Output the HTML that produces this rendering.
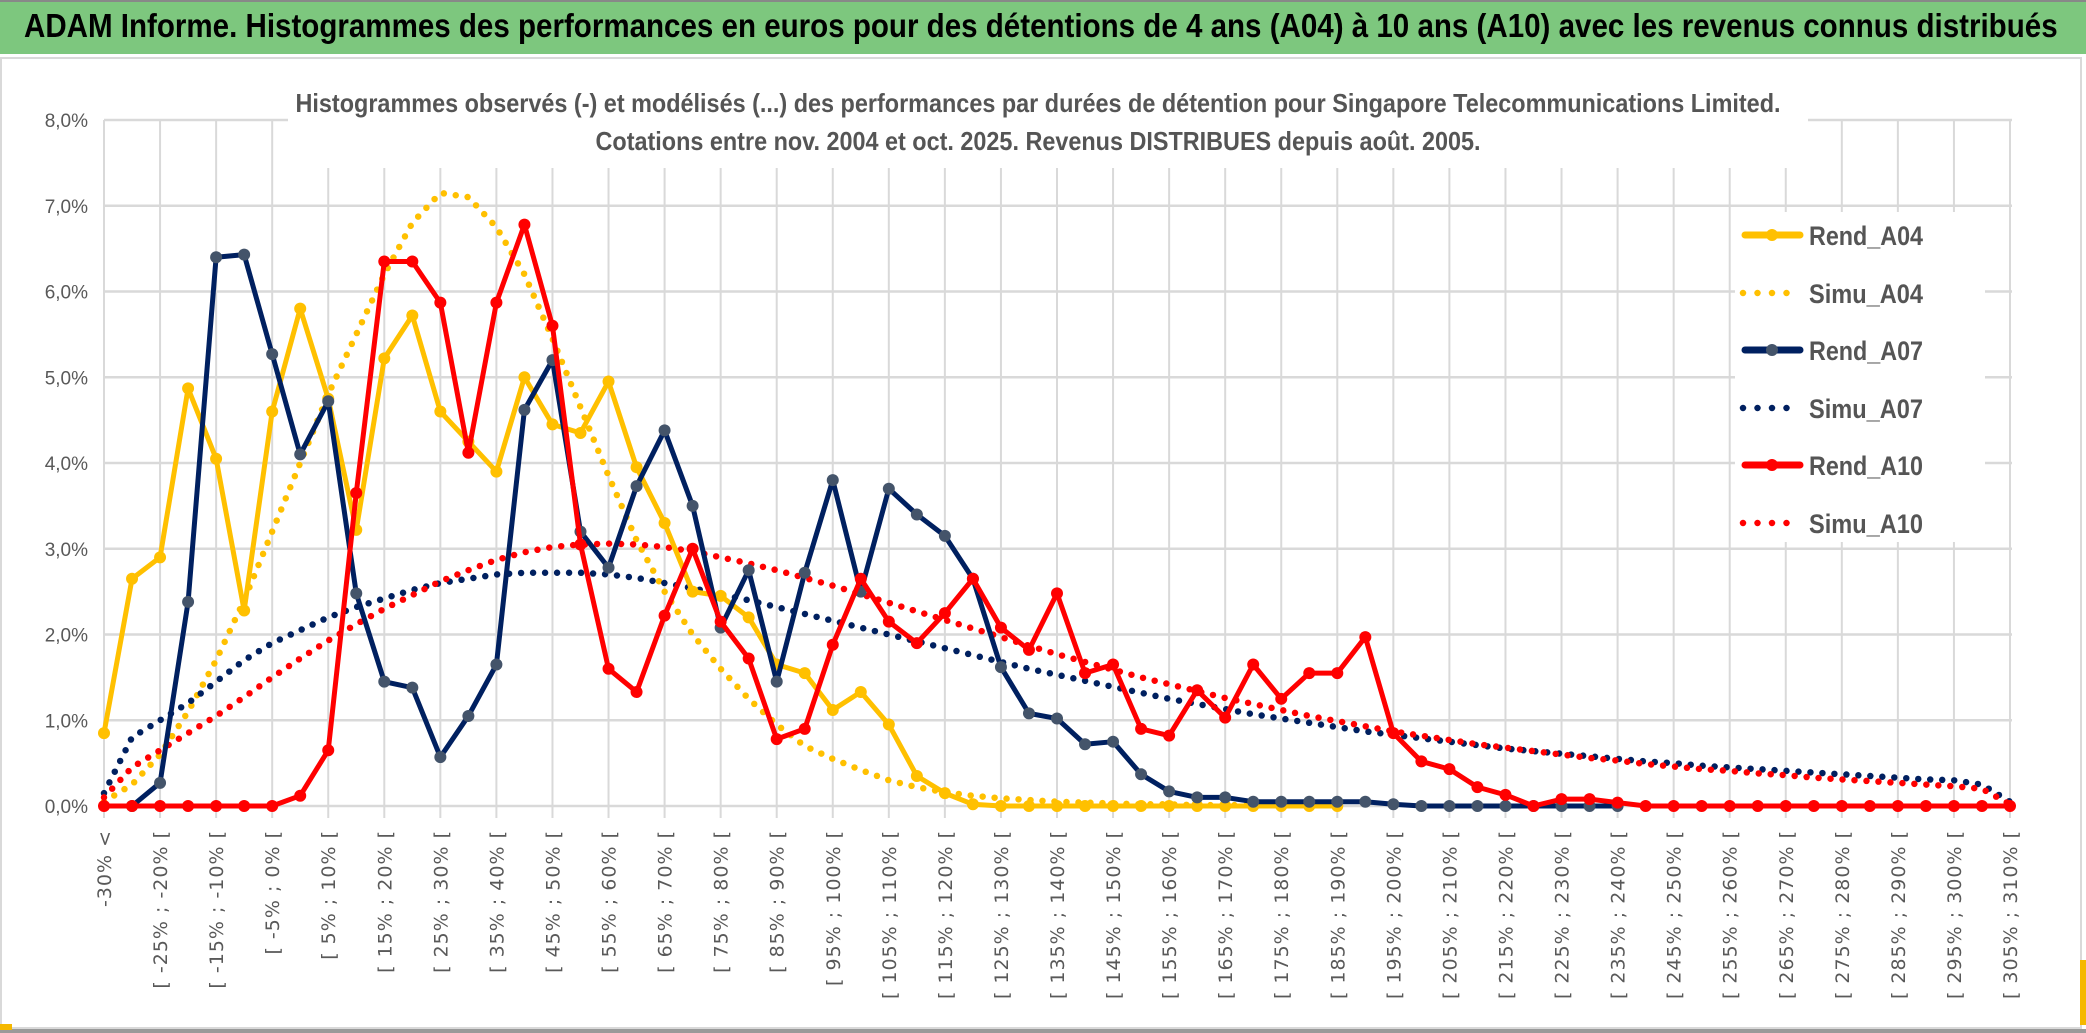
<!DOCTYPE html>
<html><head><meta charset="utf-8"><style>
html,body{margin:0;padding:0;background:#fff}
#wrap{position:relative;width:2086px;height:1033px;overflow:hidden;background:#fff}
#hdr{position:absolute;left:0;top:0;width:2086px;height:54px;background:#7dc77e;border-top:2px solid #888;box-sizing:border-box}
#hdr span{position:absolute;left:24px;top:5px;font:bold 33px "Liberation Sans",sans-serif;color:#000;white-space:nowrap;transform:scaleX(0.895);transform-origin:left top}
svg{position:absolute;left:0;top:0}
</style></head><body>
<div id="wrap">
<div id="hdr"><span>ADAM Informe. Histogrammes des performances en euros pour des détentions de 4 ans (A04) à 10 ans (A10) avec les revenus connus distribués</span></div>
<svg id="chart" width="2086" height="1033"></svg>
</div>
<script>
const categories=[];
const catStarts=[];for(let s=-30;s<=305;s+=5)catStarts.push(s);
categories.push('-30% <');catStarts.forEach(s=>categories.push('[ '+s+'% ; '+(s+5)+'% ['));
const yTicks=[0,1,2,3,4,5,6,7,8];
const rendA04=[0.85,2.65,2.9,4.87,4.05,2.28,4.6,5.8,4.75,3.22,5.22,5.72,4.6,4.25,3.9,5.0,4.45,4.35,4.95,3.95,3.3,2.5,2.45,2.2,1.65,1.55,1.12,1.33,0.95,0.35,0.15,0.02,0,0,0,0,0,0,0,0,0,0,0,0,0];
const simuA04=[0.05,0.25,0.6,1.1,1.7,2.4,3.2,4.0,4.8,5.5,6.2,6.8,7.15,7.1,6.75,6.2,5.45,4.65,3.85,3.1,2.5,2.0,1.6,1.25,0.95,0.7,0.55,0.42,0.3,0.22,0.16,0.12,0.09,0.07,0.05,0.04,0.03,0.02,0.02,0.01,0.01,0.01,0.01,0.01,0.01];
const rendA07=[null,0,0.27,2.38,6.4,6.43,5.27,4.1,4.72,2.48,1.45,1.38,0.57,1.05,1.65,4.62,5.2,3.2,2.78,3.73,4.38,3.5,2.08,2.75,1.45,2.72,3.8,2.5,3.7,3.4,3.15,2.65,1.62,1.08,1.02,0.72,0.75,0.37,0.17,0.1,0.1,0.05,0.05,0.05,0.05,0.05,0.02,0,0,0,0,0,0,0,0];
const simuA07=[0.15,0.8,1.0,1.2,1.45,1.7,1.9,2.05,2.2,2.32,2.42,2.52,2.6,2.65,2.7,2.72,2.72,2.72,2.7,2.66,2.6,2.54,2.47,2.4,2.32,2.24,2.16,2.08,2.0,1.92,1.84,1.76,1.68,1.6,1.53,1.46,1.39,1.32,1.25,1.19,1.13,1.07,1.02,0.97,0.92,0.87,0.83,0.79,0.75,0.71,0.67,0.64,0.61,0.58,0.55,0.52,0.5,0.47,0.45,0.43,0.41,0.39,0.37,0.35,0.33,0.31,0.3,0.25,0.05];
const rendA10=[0,0,0,0,0,0,0,0.12,0.65,3.65,6.35,6.35,5.87,4.12,5.87,6.78,5.6,3.05,1.6,1.33,2.22,3.0,2.15,1.72,0.78,0.9,1.88,2.65,2.15,1.9,2.25,2.65,2.08,1.82,2.48,1.55,1.65,0.9,0.82,1.35,1.03,1.65,1.25,1.55,1.55,1.97,0.85,0.52,0.43,0.22,0.13,0,0.08,0.08,0.04,0,0,0,0,0,0,0,0,0,0,0,0,0,0];
const simuA10=[0.1,0.45,0.65,0.85,1.05,1.27,1.5,1.72,1.93,2.12,2.3,2.46,2.62,2.75,2.87,2.96,3.02,3.05,3.06,3.05,3.02,2.97,2.9,2.83,2.75,2.66,2.57,2.47,2.37,2.27,2.17,2.07,1.97,1.87,1.77,1.68,1.59,1.5,1.42,1.34,1.26,1.19,1.12,1.05,0.99,0.93,0.87,0.82,0.77,0.72,0.68,0.64,0.6,0.56,0.53,0.49,0.46,0.43,0.41,0.38,0.36,0.33,0.31,0.29,0.27,0.25,0.23,0.2,0.02];
const seriesNames=['Rend_A04','Simu_A04','Rend_A07','Simu_A07','Rend_A10','Simu_A10'];

const NS='http://www.w3.org/2000/svg';
const svg=document.getElementById('chart');
const X0=104,X1=2010,Y0=806,Y8=120;
const xs=i=>X0+i*(X1-X0)/(categories.length-1);
const ys=v=>Y0-v*(Y0-Y8)/8;
function mk(t,a,p){const e=document.createElementNS(NS,t);for(const k in a)e.setAttribute(k,a[k]);(p||svg).appendChild(e);return e;}
const frame=mk('rect',{x:1,y:58,width:2080,height:970,fill:'none',stroke:'#d9d9d9','stroke-width':2});


mk('rect',{x:0,y:1029,width:2086,height:4,fill:'#999'});
mk('rect',{x:0,y:1024,width:12,height:6,fill:'#f5b800'});
mk('rect',{x:2080,y:960,width:6,height:65,fill:'#f5b800'});
for(let i=0;i<categories.length;i+=2){
  const g=mk('line',{x1:xs(i),x2:xs(i),y1:Y8,y2:Y0+12,stroke:'#d9d9d9','stroke-width':2});
  
  
}
yTicks.forEach(v=>{
  const g=mk('line',{x1:X0,x2:2012,y1:ys(v),y2:ys(v),stroke:'#d9d9d9','stroke-width':2.5});
  
  
  const t=mk('text',{x:88,y:ys(v)+7,'text-anchor':'end','font-family':'Liberation Sans, sans-serif','font-size':19,fill:'#595959'});
  t.textContent=v.toFixed(1).replace('.',',')+'%';
  
  
});
mk('rect',{x:288,y:78,width:1520,height:90,fill:'#fff'});
const t1=mk('text',{x:1038,y:112,'text-anchor':'middle','font-family':'Liberation Sans, sans-serif','font-size':26,fill:'#555','font-weight':'bold',textLength:1485,lengthAdjust:'spacingAndGlyphs'});
t1.textContent='Histogrammes observés (-) et modélisés (...) des performances par durées de détention pour Singapore Telecommunications Limited.';


const t2=mk('text',{x:1038,y:150,'text-anchor':'middle','font-family':'Liberation Sans, sans-serif','font-size':26,fill:'#555','font-weight':'bold',textLength:885,lengthAdjust:'spacingAndGlyphs'});
t2.textContent='Cotations entre nov. 2004 et oct. 2025. Revenus DISTRIBUES depuis août. 2005.';


for(let i=0;i<categories.length;i+=2){
  const x=xs(i)+7;
  const t=mk('text',{x:0,y:0,transform:`translate(${x},830) rotate(-90)`,'text-anchor':'end','font-family':'DejaVu Sans, sans-serif','font-size':19,fill:'#595959','letter-spacing':'1'});
  t.textContent=categories[i];
  
  
}
function pts(arr){const p=[];arr.forEach((v,i)=>{if(v!=null)p.push([xs(i),ys(v)]);});return p;}
function dotted(arr,color,name){
  const pl=mk('polyline',{points:pts(arr).map(p=>p.join(',')).join(' '),fill:'none',stroke:color,'stroke-width':6.5,'stroke-linecap':'round','stroke-dasharray':'0 12'});
  
  
}
function solid(arr,color,mcol,name){
  const g=mk('g',{});
  
  
  mk('polyline',{points:pts(arr).map(p=>p.join(',')).join(' '),fill:'none',stroke:color,'stroke-width':5,'stroke-linejoin':'round'},g);
  pts(arr).forEach(p=>{
    const c=mk('circle',{cx:p[0],cy:p[1],r:6,fill:mcol},g);
    
    
  });
}
dotted(simuA04,'#ffc000','simu-a04-line');
dotted(simuA07,'#002060','simu-a07-line');
dotted(simuA10,'#ff0000','simu-a10-line');
solid(rendA04,'#ffc000','#ffc000','rend-a04-line');
solid(rendA07,'#002060','#44546a','rend-a07-line');
solid(rendA10,'#ff0000','#ff0000','rend-a10-line');
mk('rect',{x:1735,y:212,width:250,height:330,fill:'#fff'});
const legCol=['#ffc000','#ffc000','#002060','#002060','#ff0000','#ff0000'];
const legY=[235,293,350,408,465,523];
seriesNames.forEach((n,i)=>{
  const g=mk('g',{});
  
  
  if(i%2===0){
    mk('line',{x1:1745,x2:1800,y1:legY[i],y2:legY[i],stroke:legCol[i],'stroke-width':7,'stroke-linecap':'round'},g);
    mk('circle',{cx:1772,cy:legY[i],r:6,fill:i===2?'#44546a':legCol[i]},g);
  } else {
    mk('line',{x1:1743,x2:1800,y1:legY[i],y2:legY[i],stroke:legCol[i],'stroke-width':6.5,'stroke-linecap':'round','stroke-dasharray':'0 14.5'},g);
  }
  const t=mk('text',{x:1809,y:legY[i]+10,'font-family':'Liberation Sans, sans-serif','font-size':27,fill:'#555','font-weight':'bold',textLength:114,lengthAdjust:'spacingAndGlyphs'},g);
  t.textContent=n;
});
</script>
</body></html>
